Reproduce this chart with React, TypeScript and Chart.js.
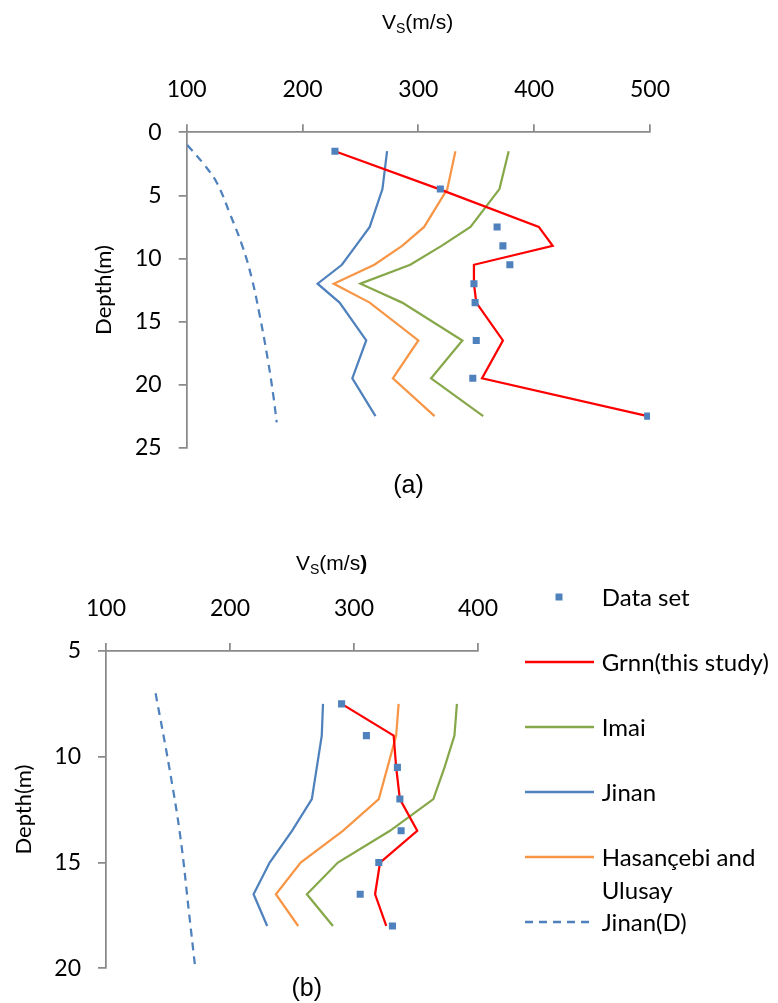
import { useEffect, useRef } from 'react'
import { Chart, registerables } from 'chart.js'

Chart.register(...registerables)

// ---- (a) whole profile ----
const depthA = [1.5, 4.5, 7.5, 9, 10.5, 12, 13.5, 16.5, 19.5, 22.5]
const dataSetA = [228, 319, 368, 373, 379, 348, 349, 350, 347, 498]
const grnnA = [228, 318, 404, 416, 348, 348, 350, 373, 355, 498]
const imaiA = [378, 370, 345, 320, 293, 250, 286, 338, 311, 356]
const jinanA = [273, 269, 258, 246, 234, 213, 232, 255, 243, 263]
const hasanA = [332, 325, 305, 286, 262, 227, 258, 300, 278, 314]
const depthJinanDA = [1, 2.5, 4, 6.5, 9, 11.5, 14.5, 18, 21, 23]
const jinanDA = [100.5, 114.5, 126, 137.5, 148, 156, 163, 170, 175, 177.7]

// ---- (b) 7.5 - 18 m ----
const depthB = [7.5, 9, 10.5, 12, 13.5, 15, 16.5, 18]
const dataSetB = [290, 310, 335, 337, 338, 320, 305, 331]
const grnnB = [290, 332, 334, 337, 351, 321, 317, 326]
const imaiB = [383, 381, 373, 364, 329, 287, 262, 283]
const jinanB = [275, 274, 270, 266, 250, 232, 219, 230]
const hasanB = [336, 334, 327, 320, 291, 257, 237, 255]
const depthJinanDB = [7, 10.5, 13.8, 17.4, 20]
const jinanDB = [140, 151, 160, 167, 172]

const seriesNames = ['Data set', 'Grnn(this study)', 'Imai', 'Jinan', 'Hasançebi and Ulusay', 'Jinan(D)']
const BLUE = '#4F81BD'
const RED = '#FF0000'
const GREEN = '#86A84A'
const ORANGE = '#F79646'
const AXIS = '#8A8A8A'

const pts = (vs: number[], depth: number[]) => vs.map((v, i) => ({ x: v, y: depth[i] }))

function makeDatasets(depth: number[], dataSet: number[], grnn: number[], imai: number[],
  jinan: number[], hasan: number[], depthD: number[], jinanD: number[]) {
  const line = (label: string, color: string, data: { x: number; y: number }[], dash: number[] = [], tension = 0) => ({
    label,
    data,
    showLine: true,
    borderColor: color,
    backgroundColor: color,
    borderWidth: 2.25,
    borderDash: dash,
    tension,
    pointRadius: 0,
    fill: false,
  })
  return [
    {
      label: seriesNames[0],
      data: pts(dataSet, depth),
      showLine: false,
      pointStyle: 'rect',
      pointRadius: 5,
      backgroundColor: BLUE,
      borderWidth: 0,
    },
    line(seriesNames[1], RED, pts(grnn, depth)),
    line(seriesNames[2], GREEN, pts(imai, depth)),
    line(seriesNames[3], BLUE, pts(jinan, depth)),
    line(seriesNames[4], ORANGE, pts(hasan, depth)),
    // smooth dashed curve
    line(seriesNames[5], BLUE, pts(jinanD, depthD), [8, 6], 0.4),
  ]
}

interface DepthChartProps {
  width: number
  height: number
  padding: { left: number; top: number; right: number; bottom: number }
  xMax: number
  yMin: number
  yMax: number
  titlePad: number
  datasets: any[]
}

const DepthChart: React.FC<DepthChartProps> = ({ width, height, padding, xMax, yMin, yMax, titlePad, datasets }) => {
  const canvasRef = useRef<HTMLCanvasElement>(null)

  useEffect(() => {
    if (!canvasRef.current) return
    const ctx = canvasRef.current.getContext('2d')
    if (!ctx) return

    const chart = new Chart(ctx, {
      type: 'scatter',
      data: { datasets },
      options: {
        responsive: false,
        animation: false,
        layout: { padding },
        plugins: {
          legend: { display: false },
          tooltip: { enabled: false },
        },
        scales: {
          x: {
            type: 'linear',
            position: 'top',
            min: 100,
            max: xMax,
            ticks: { stepSize: 100, padding: 21, color: '#000', font: { size: 23 } },
            grid: { drawOnChartArea: false, color: AXIS, lineWidth: 1.75, tickLength: 8 },
            border: { color: AXIS, width: 1.75 },
            afterFit: (s: any) => { s.height = 60 },
          },
          y: {
            type: 'linear',
            position: 'left',
            reverse: true,
            min: yMin,
            max: yMax,
            ticks: { stepSize: 5, padding: 17, color: '#000', font: { size: 23 } },
            grid: { drawOnChartArea: false, color: AXIS, lineWidth: 1.75, tickLength: 8 },
            border: { color: AXIS, width: 1.75 },
            title: {
              display: true,
              text: 'Depth(m)',
              color: '#000',
              font: { size: 22 },
              padding: { top: titlePad, bottom: 0 },
            },
            afterFit: (s: any) => { s.width = 100 },
          },
        },
      },
    } as any)

    return () => {
      chart.destroy()
    }
  }, [])

  return <canvas ref={canvasRef} width={width} height={height} style={{ display: 'block' }} />
}

const titleFont = '"Liberation Sans", Arial, sans-serif'

const VsTitle: React.FC<{ left: number; top: number; boldParen?: boolean }> = ({ left, top, boldParen }) => (
  <div style={{ position: 'absolute', left, top, fontFamily: titleFont, fontSize: 21, lineHeight: 1, whiteSpace: 'nowrap', color: '#000' }}>
    V<sub style={{ fontSize: 14, verticalAlign: -4 }}>S</sub>(m/s{boldParen ? <b>)</b> : ')'}
  </div>
)

const legendY = [597, 662, 727, 792, 857, 922]

export default function App() {
  const datasetsA = makeDatasets(depthA, dataSetA, grnnA, imaiA, jinanA, hasanA, depthJinanDA, jinanDA)
  const datasetsB = makeDatasets(depthB, dataSetB, grnnB, imaiB, jinanB, hasanB, depthJinanDB, jinanDB)
  Chart.defaults.font.family = 'Lato, "Liberation Sans", sans-serif'

  return (
    <div style={{ position: 'absolute', left: 0, top: 0, width: 778, height: 1003, background: '#fff', overflow: 'hidden' }}>
      <div style={{ position: 'absolute', left: 0, top: 0 }}>
        <DepthChart
          width={778}
          height={520}
          padding={{ left: 86.7, top: 72.3, right: 128, bottom: 72.3 }}
          xMax={500}
          yMin={0}
          yMax={25}
          titlePad={4}
          datasets={datasetsA}
        />
      </div>
      <div style={{ position: 'absolute', left: 0, top: 520 }}>
        <DepthChart
          width={778}
          height={483}
          padding={{ left: 6, top: 71, right: 300, bottom: 34.7 }}
          xMax={400}
          yMin={5}
          yMax={20}
          titlePad={5}
          datasets={datasetsB}
        />
      </div>

      <VsTitle left={382} top={11} />
      <VsTitle left={296} top={552} boldParen />

      <div style={{ position: 'absolute', left: 408.5, top: 483.5, transform: 'translate(-50%,-50%)', fontFamily: titleFont, fontSize: 25, lineHeight: 1 }}>(a)</div>
      <div style={{ position: 'absolute', left: 306.7, top: 987, transform: 'translate(-50%,-50%)', fontFamily: titleFont, fontSize: 25, lineHeight: 1 }}>(b)</div>

      {seriesNames.map((name, i) => (
        <div key={name}>
          <svg style={{ position: 'absolute', left: 520, top: legendY[i] - 10 }} width={80} height={20}>
            {i === 0 ? (
              <rect x={35.5} y={6.5} width={7} height={7} fill={BLUE} />
            ) : (
              <line x1={5} y1={10} x2={74} y2={10}
                stroke={[RED, GREEN, BLUE, ORANGE, BLUE][i - 1]}
                strokeWidth={2.5}
                strokeDasharray={i === 5 ? '8 6' : undefined} />
            )}
          </svg>
          <div style={{ position: 'absolute', left: 601.7, top: legendY[i] - 15, fontFamily: 'Lato, sans-serif', fontSize: 24, lineHeight: '33px', width: 176, color: '#000', marginTop: -2 }}>
            {i === 4 ? <>Hasançebi and<br />Ulusay</> : name}
          </div>
        </div>
      ))}
    </div>
  )
}
